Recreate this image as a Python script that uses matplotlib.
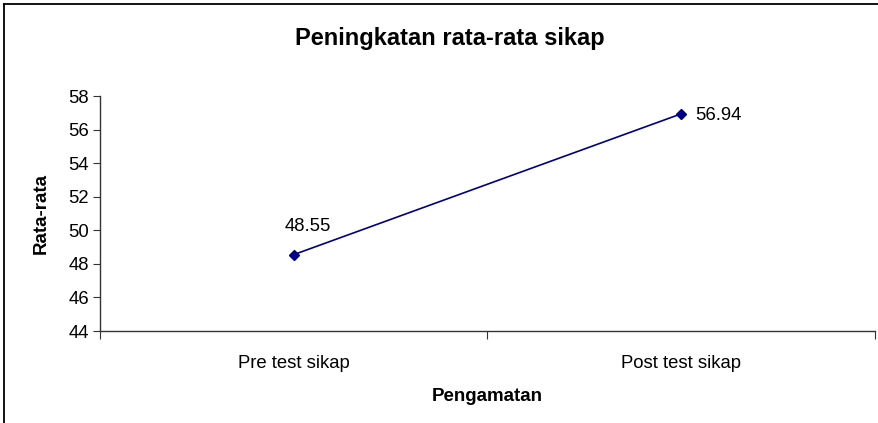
import matplotlib
matplotlib.use("Agg")
import matplotlib.pyplot as plt

categories = ["Pre test sikap", "Post test sikap"]
values = [48.55, 56.94]
yticks = [44, 46, 48, 50, 52, 54, 56, 58]

plt.rcParams['font.family'] = ['Liberation Sans', 'DejaVu Sans']

fig = plt.figure(figsize=(8.79, 4.23), dpi=100)
W, H = 879, 423
ax = fig.add_axes([100 / W, 1 - 331 / H, (875 - 100) / W, (331 - 96) / H])

x = [0.5, 1.5]
ax.plot(x, values, color="#000080", lw=1.2, marker="D", ms=5,
        markerfacecolor="#000080", markeredgecolor="#000080")
ax.set_xlim(0, 2)
ax.set_ylim(44, 58)
ax.set_yticks(yticks)
ax.set_xticks([0, 1, 2])
ax.set_xticklabels([])
ax.set_xticks(x, minor=True)
ax.set_xticklabels(categories, minor=True, fontsize=13.3)
ax.tick_params(axis="x", which="minor", length=0, pad=17)
ax.tick_params(axis="x", which="major", length=6, direction="out", color="#333333")
ax.tick_params(axis="y", length=5, direction="out", labelsize=13.3, pad=3, color="#333333")
for s in ["top", "right"]:
    ax.spines[s].set_visible(False)
for s in ["left", "bottom"]:
    ax.spines[s].set_color("#333333")
    ax.spines[s].set_linewidth(1.0)

ax.annotate(f"{values[0]:.2f}", (x[0], values[0]), xytext=(10, 14),
            textcoords="offset points", ha="center", va="bottom", fontsize=13.3)
ax.annotate(f"{values[1]:.2f}", (x[1], values[1]), xytext=(10, -1),
            textcoords="offset points", ha="left", va="center", fontsize=13.3)

ax.set_ylabel("Rata-rata", fontsize=13.5, fontweight="bold", labelpad=13)
ax.set_xlabel("Pengamatan", fontsize=13.5, fontweight="bold", labelpad=12)
fig.text(450 / W, 1 - 38 / H, "Peningkatan rata-rata sikap", ha="center",
         va="center", fontsize=17, fontweight="bold")

# outer chart frame (left and top visible)
fig.add_artist(plt.Line2D([4.5 / W, 4.5 / W], [0, 1 - 4.5 / H], color="black", lw=1.3,
                          transform=fig.transFigure))
fig.add_artist(plt.Line2D([4.5 / W, 1], [1 - 4.5 / H, 1 - 4.5 / H], color="black", lw=1.3,
                          transform=fig.transFigure))

fig.savefig("out.png", dpi=100)
